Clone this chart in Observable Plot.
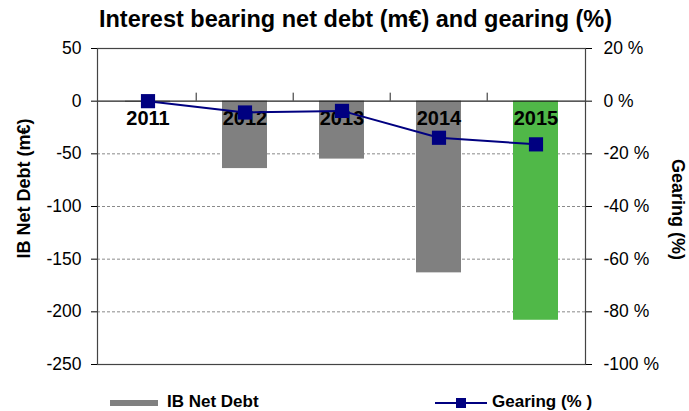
<!DOCTYPE html>
<html><head><meta charset="utf-8">
<script src="https://cdn.jsdelivr.net/npm/d3@7"></script>
<script src="https://cdn.jsdelivr.net/npm/@observablehq/plot@0.6"></script>
<style>
body{margin:0;background:#fff;font-family:"Liberation Sans",Arial,sans-serif;color:#000;}
#wrap{position:relative;width:689px;height:411px;overflow:hidden;}
#title{height:36px;line-height:38px;text-align:center;font-weight:bold;font-size:23.5px;padding-left:22px;box-sizing:border-box;white-space:nowrap;}
#chart svg{display:block;}
#legend{position:relative;height:19px;font-weight:bold;font-size:17px;}
#legend .sw{position:absolute;}
#legend .lbl{position:absolute;top:0;line-height:19px;white-space:nowrap;}
</style></head><body>
<div id="wrap">
<div id="title">Interest bearing net debt (m€) and gearing (%)</div>
<div id="chart"></div>
<div id="legend">
  <div class="sw" style="left:110px;top:8px;width:48px;height:6px;background:#808080"></div>
  <div class="lbl" style="left:167px">IB Net Debt</div>
  <svg class="sw" style="left:435px;top:4px" width="52" height="14"><line x1="0" y1="7" x2="52" y2="7" stroke="#000080" stroke-width="2"/><rect x="21" y="2" width="10" height="10" fill="#000080"/></svg>
  <div class="lbl" style="left:492px">Gearing (% )</div>
</div>
</div>
<script>
const years = ["2011", "2012", "2013", "2014", "2015"];
const netDebt = [-1, -64, -55, -163, -208];          // m€
const gearing = [0, -4.3, -3.7, -13.9, -16.4];        // %
const leftTicks = [50, 0, -50, -100, -150, -200, -250];
const gridTicks = [-50, -100, -150, -200];
const debtPerGearingPct = 2.5; // right axis: 20 % ↔ 50 m€
const highlightYear = "2015";

const data = years.map((y, i) => ({
  year: y, debt: netDebt[i], gearing: gearing[i], g: gearing[i] * debtPerGearingPct
}));

const W = 689, ML = 97, MR = 104;
const bw = (W - ML - MR) / years.length;

const chart = Plot.plot({
  width: W, height: 356,
  marginLeft: ML, marginRight: MR, marginTop: 12, marginBottom: 28,
  style: {fontFamily: "'Liberation Sans', Arial, sans-serif", fontSize: "17px", color: "#000", background: "#fff"},
  x: {type: "band", domain: years, padding: 0, axis: null},
  y: {domain: [-250, 50], axis: null},
  marks: [
    Plot.ruleY(gridTicks, {stroke: "#8a8a8a", strokeDasharray: "3,2", strokeWidth: 1}),
    Plot.barY(data, {x: "year", y: "debt", fill: d => d.year === highlightYear ? "#50b848" : "#808080", insetLeft: 26, insetRight: 26}),
    Plot.ruleY([0], {stroke: "#222", strokeWidth: 1.2}),
    Plot.ruleX(years.slice(1), {x: d => d, y1: 0, y2: 0, dx: -bw / 2, insetTop: -8, stroke: "#222"}),
    Plot.frame({stroke: "#444", strokeWidth: 1.2}),
    Plot.axisY(leftTicks, {anchor: "left", tickSize: 6, tickPadding: 10, tickFormat: d => String(d), label: null, fontSize: 17.5}),
    Plot.axisY(leftTicks, {anchor: "right", tickSize: 6, tickPadding: 12, tickFormat: d => `${d / debtPerGearingPct} %`, label: null, fontSize: 17.5}),
    Plot.text(data, {x: "year", y: 0, text: "year", dy: 17, lineAnchor: "middle", fontWeight: "bold", fontSize: 20}),
    Plot.line(data, {x: "year", y: "g", stroke: "#000080", strokeWidth: 2}),
    Plot.dot(data, {x: "year", y: "g", symbol: "square", r: 8, fill: "#000080", stroke: "none"}),
    Plot.text(["IB Net Debt (m€)"], {frameAnchor: "left", textAnchor: "middle", dx: -73, dy: -18, rotate: -90, fontWeight: "bold", fontSize: 18}),
    Plot.text(["Gearing (%)"], {frameAnchor: "right", textAnchor: "middle", dx: 92, dy: 3, rotate: 90, fontWeight: "bold", fontSize: 18})
  ]
});
document.getElementById("chart").appendChild(chart);
</script>
</body></html>
